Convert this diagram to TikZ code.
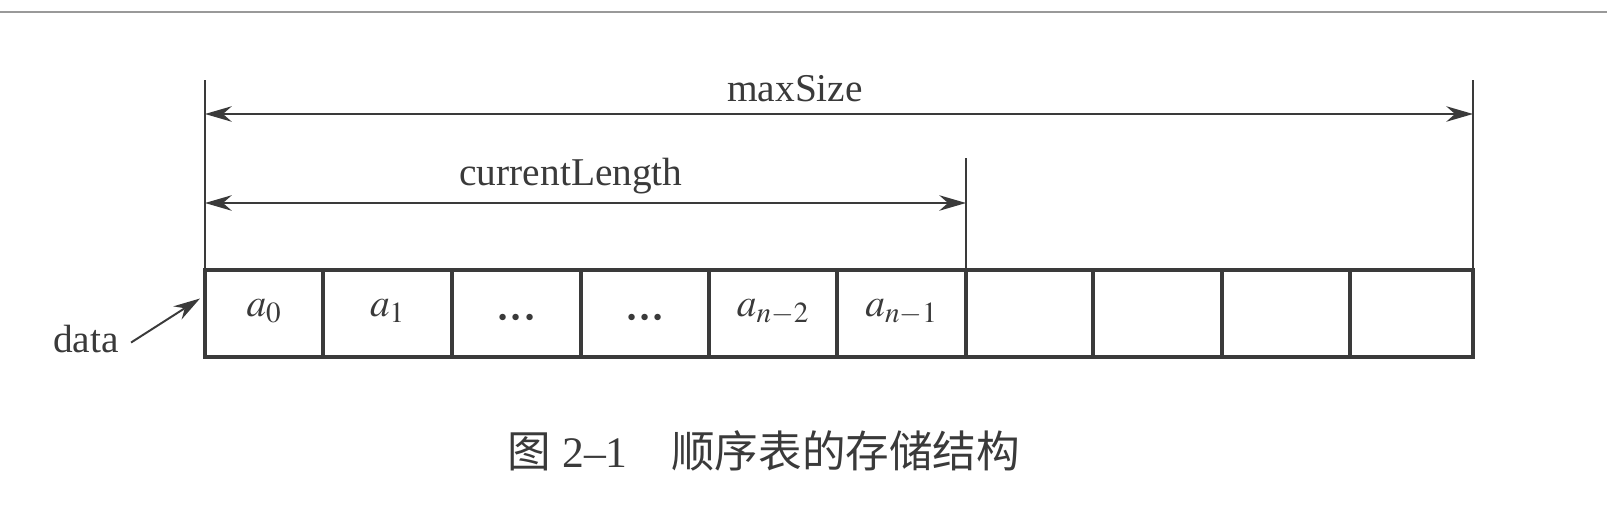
\documentclass[tikz,border=0pt]{standalone}
\usepackage{mathptmx}
\usepackage[no-math]{fontspec}
\setmainfont{Liberation Serif}
\newfontfamily\cjk{Noto Sans CJK SC}
\usetikzlibrary{arrows.meta}
\definecolor{ink}{HTML}{3A3A3A}
\newcommand{\dotsup}{\raisebox{-0.36em}{\bfseries\textperiodcentered\textperiodcentered\textperiodcentered}}
\begin{document}
\begin{tikzpicture}[x=0.025cm, y=-0.025cm, color=ink,
        >={Stealth[length=19pt, width=11pt]},
        font=\fontsize{28}{34}\selectfont,
        cell/.style={draw, line width=2.6pt, outer sep=0pt, inner sep=0pt,
                minimum height=2.175cm, text height=0.7em, text depth=0.25em},
        guide/.style={line width=1.4pt}]
        \useasboundingbox (0,0) rectangle (1607,531);
        \draw[black!40, line width=1.5pt] (0,12) -- (1607,12);
        % cells of the array
        \foreach \i/\l/\r/\lab in {1/205/323/{$a_0$}, 2/323/452/{$a_1$}, 3/452/581/{\dotsup},
                4/581/709/{\dotsup}, 5/709/837/{$a_{n-2}$}, 6/837/966/{$a_{n-1}$},
                7/966/1093/{}, 8/1093/1222/{}, 9/1222/1350/{}, 10/1350/1473/{}}
                \node[cell, minimum width={(\r-\l)*0.025cm}] (c\i) at ({(\l+\r)/2},313.5) {\lab};
        \coordinate (top) at (0,80);
        \coordinate (mid) at (0,158);
        \coordinate (ms) at (0,114);
        \coordinate (cl) at (0,203);
        \draw[guide] (c1.north west) -- (c1.north west |- top);
        \draw[guide] (c6.north east) -- (c6.north east |- mid);
        \draw[guide] (c10.north east) -- (c10.north east |- top);
        \draw[guide, <->] (c1.north west |- ms) -- (c10.north east |- ms);
        \draw[guide, <->] (c1.north west |- cl) -- (c6.north east |- cl);
        \node[anchor=base] (max) at (795,102) {maxSize};
        \node[anchor=base] (cur) at (571,186) {currentLength};
        \node[anchor=base, inner sep=0pt] (data) at (86,353) {data};
        \draw[guide, ->] ([shift={(12,3)}]data.east) -- ([shift={(-5,-15)}]c1.west);
        \node[anchor=base, font=\fontsize{31}{36}\selectfont] (caption) at (764,467)
                {{\cjk 图} 2–1\hspace{1em}{\cjk 顺序表的存储结构}};
\end{tikzpicture}
\end{document}
